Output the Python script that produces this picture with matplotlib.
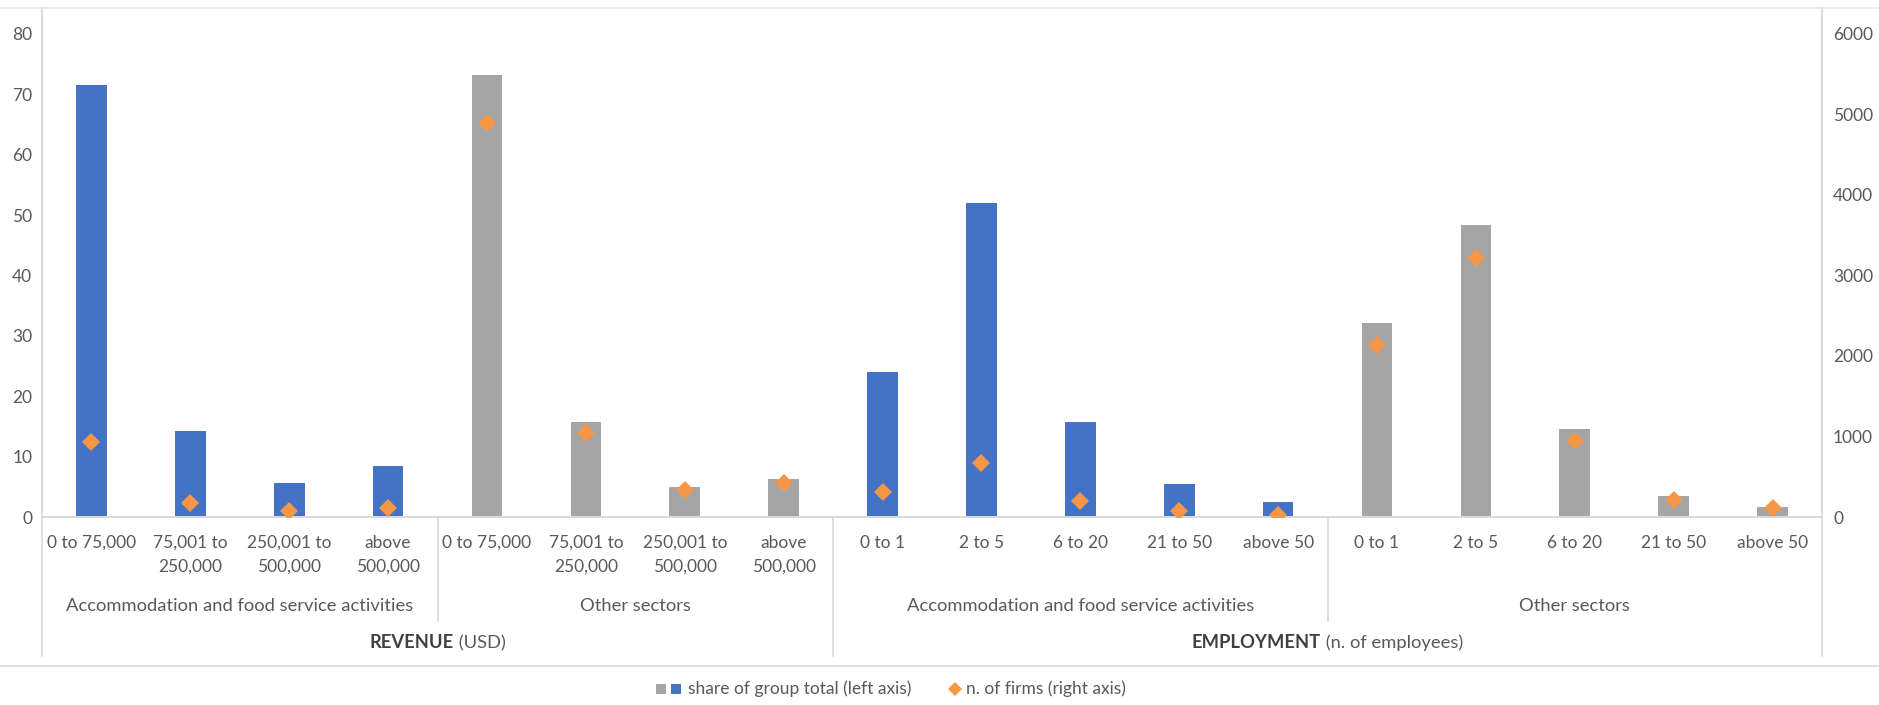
import matplotlib
matplotlib.use("Agg")
import matplotlib.pyplot as plt
import matplotlib.transforms as mtransforms
from matplotlib.lines import Line2D

plt.rcParams["font.family"] = ["Lato", "DejaVu Sans"]

# ---- data -------------------------------------------------------------
revenue_bands = ["0 to 75,000", "75,001 to\n250,000", "250,001 to\n500,000", "above\n500,000"]
employment_bands = ["0 to 1", "2 to 5", "6 to 20", "21 to 50", "above 50"]
sectors = ["Accommodation and food service activities", "Other sectors"]
dimensions = [("REVENUE", " (USD)"), ("EMPLOYMENT", " (n. of employees)")]

share_rev_accom = [71.6, 14.2, 5.6, 8.4]
share_rev_other = [73.2, 15.7, 5.0, 6.3]
share_emp_accom = [24.0, 52.0, 15.8, 5.5, 2.5]
share_emp_other = [32.2, 48.4, 14.6, 3.4, 1.6]

firms_rev_accom = [930, 175, 70, 112]
firms_rev_other = [4890, 1040, 340, 418]
firms_emp_accom = [315, 665, 195, 70, 30]
firms_emp_other = [2140, 3220, 950, 215, 112]

left_ticks = [0, 10, 20, 30, 40, 50, 60, 70, 80]
right_ticks = [0, 1000, 2000, 3000, 4000, 5000, 6000]

# ---- styling -----------------------------------------------------------
BLUE = "#4472C4"
GRAY = "#A5A5A5"
ORANGE = "#F79646"
TXT = "#595959"
LINE = "#D9D9D9"
FS = 12.5
FS_GROUP = 13.2

W, H = 1879, 705
fig = plt.figure(figsize=(W / 100, H / 100), dpi=100)


def fx(px):
    return px / W


def fy(py):
    return 1 - py / H


# assemble the 18 categories
labels = revenue_bands * 2 + employment_bands * 2
shares = share_rev_accom + share_rev_other + share_emp_accom + share_emp_other
firms = firms_rev_accom + firms_rev_other + firms_emp_accom + firms_emp_other
colors = ([BLUE] * len(share_rev_accom) + [GRAY] * len(share_rev_other)
          + [BLUE] * len(share_emp_accom) + [GRAY] * len(share_emp_other))
xs = list(range(len(labels)))

ax = fig.add_axes([fx(42), fy(517), fx(1822) - fx(42), fy(8) - fy(517)])
ax.bar(xs, shares, width=0.31, color=colors, zorder=2)
ax.set_xlim(-0.5, len(labels) - 0.5)
top_left = 80 * 509 / 483
ax.set_ylim(0, top_left)
ax.set_yticks(left_ticks)
ax.set_xticks([])
ax.tick_params(axis="y", length=0, pad=7, labelsize=FS, labelcolor=TXT)

ax2 = ax.twinx()
ax2.set_ylim(0, 6000 * top_left / 80)
ax2.set_yticks(right_ticks)
ax2.tick_params(axis="y", length=0, pad=8, labelsize=FS, labelcolor=TXT)
ax2.plot(xs, firms, linestyle="none", marker="D", markersize=9,
         color=ORANGE, markeredgewidth=0, zorder=3)

for a in (ax, ax2):
    a.spines["top"].set_visible(False)
    for s in ("left", "right", "bottom"):
        a.spines[s].set_color(LINE)
        a.spines[s].set_linewidth(1.2)

# ---- multi-level category axis ------------------------------------------
trans = mtransforms.blended_transform_factory(ax.transData, fig.transFigure)

for x, lab in zip(xs, labels):
    parts = lab.split("\n")
    for i, p in enumerate(parts):
        ax.text(x, fy(543 + 24 * i), p, transform=trans, ha="center", va="center",
                fontsize=FS, color=TXT, clip_on=False)

n_rev = len(revenue_bands)
n_emp = len(employment_bands)
sector_spans = [(0, n_rev), (n_rev, 2 * n_rev),
                (2 * n_rev, 2 * n_rev + n_emp), (2 * n_rev + n_emp, 2 * n_rev + 2 * n_emp)]
for k, (a0, a1) in enumerate(sector_spans):
    ax.text((a0 + a1 - 1) / 2, fy(606), sectors[k % 2], transform=trans,
            ha="center", va="center", fontsize=FS_GROUP, color=TXT, clip_on=False)

# separators between sector groups and between dimensions
for b in (n_rev - 0.5, 2 * n_rev + n_emp - 0.5):
    ax.add_line(Line2D([b, b], [fy(517), fy(621)], transform=trans, color=LINE,
                       lw=1.2, clip_on=False))
for b in (-0.5, 2 * n_rev - 0.5, len(labels) - 0.5):
    ax.add_line(Line2D([b, b], [fy(517), fy(656)], transform=trans, color=LINE,
                       lw=1.2, clip_on=False))

# dimension titles: bold keyword followed by the unit in normal weight
fig.canvas.draw()
renderer = fig.canvas.get_renderer()
dim_centers = [(2 * n_rev - 1) / 2, (2 * n_rev + len(labels) - 1) / 2]
for (bold, normal), xc in zip(dimensions, dim_centers):
    t1 = fig.text(0, fy(643), bold, fontsize=FS_GROUP, fontweight="bold", color="#404040",
                  ha="left", va="center")
    t2 = fig.text(0, fy(643), normal, fontsize=FS_GROUP, color=TXT, ha="left", va="center")
    w1 = t1.get_window_extent(renderer).width
    w2 = t2.get_window_extent(renderer).width
    xc_px = ax.transData.transform((xc, 0))[0]
    start = xc_px - (w1 + w2) / 2
    t1.set_x(fx(start))
    t2.set_x(fx(start + w1))

# frame lines
fig.add_artist(Line2D([0, 1], [fy(8), fy(8)], transform=fig.transFigure,
                      color="#E6E6E6", lw=1.2))
fig.add_artist(Line2D([0, 1], [fy(666), fy(666)], transform=fig.transFigure,
                      color=LINE, lw=1.2))

# ---- legend ------------------------------------------------------------
ly = fy(689)
fig.add_artist(Line2D([fx(661)], [ly], transform=fig.transFigure, marker="s",
                      markersize=7.5, color=GRAY, markeredgewidth=0, linestyle="none"))
fig.add_artist(Line2D([fx(676)], [ly], transform=fig.transFigure, marker="s",
                      markersize=7.5, color=BLUE, markeredgewidth=0, linestyle="none"))
fig.text(fx(688), ly, "share of group total (left axis)", fontsize=FS, color=TXT,
         ha="left", va="center")
fig.add_artist(Line2D([fx(955)], [ly], transform=fig.transFigure, marker="D",
                      markersize=7, color=ORANGE, markeredgewidth=0, linestyle="none"))
fig.text(fx(966), ly, "n. of firms (right axis)", fontsize=FS, color=TXT,
         ha="left", va="center")

fig.savefig("out.png", dpi=100, facecolor="white")
